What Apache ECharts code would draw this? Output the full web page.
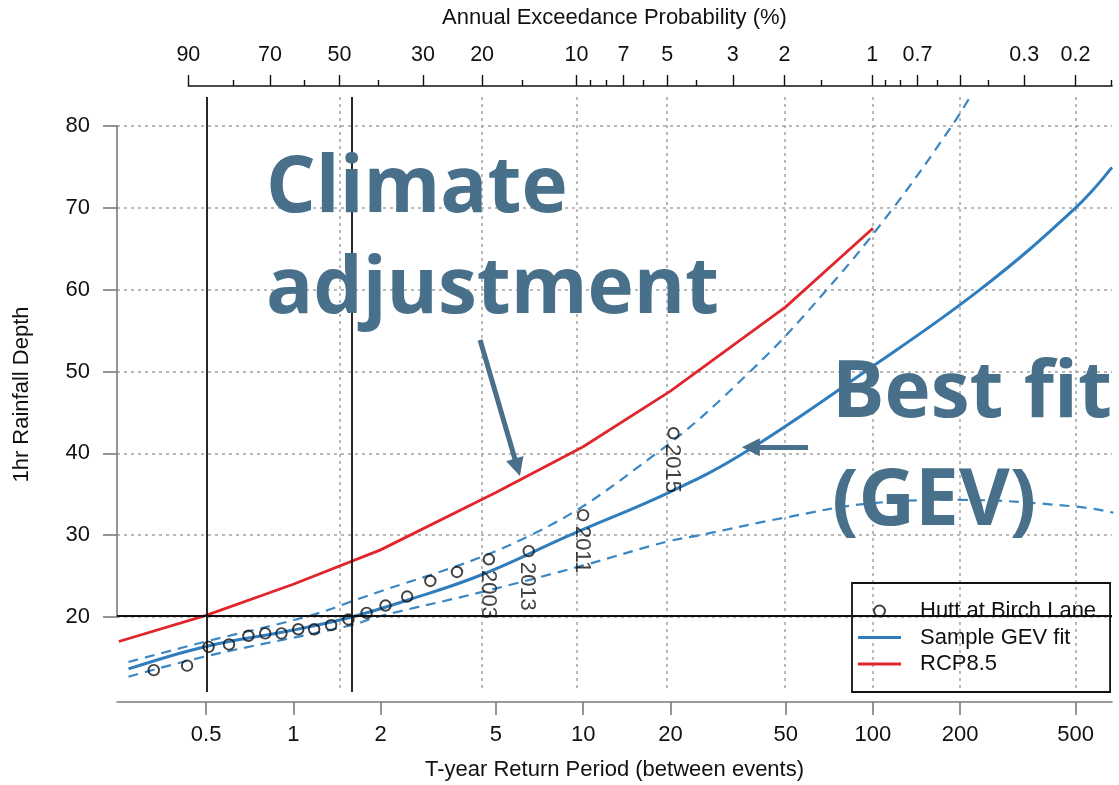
<!DOCTYPE html>
<html>
<head>
<meta charset="utf-8">
<title>1hr Rainfall Depth – Hutt at Birch Lane</title>
<script src="https://cdn.jsdelivr.net/npm/echarts@6/dist/echarts.min.js"></script>
<style>
  html, body { margin: 0; padding: 0; background: #ffffff; }
  #chart { width: 1119px; height: 785px; }
</style>
</head>
<body>
<div id="chart"></div>
<script>
// Observed annual maxima, Hutt at Birch Lane (return period in years, depth in mm)
const returnPeriods = [0.33, 0.43, 0.51, 0.60, 0.70, 0.80, 0.91, 1.04, 1.18, 1.35,
                       1.55, 1.79, 2.08, 2.47, 2.97, 3.67, 4.73, 6.49, 10.0, 20.5];
const depths = [13.5, 14.05, 16.35, 16.65, 17.7, 18.0, 18.0, 18.5, 18.5, 19.0,
                19.7, 20.5, 21.4, 22.5, 24.4, 25.5, 27.05, 28.05, 32.45, 42.45];
const eventYears = ['', '', '', '', '', '', '', '', '', '',
                    '', '', '', '', '', '', '2003', '2013', '2011', '2015'];

// Sample GEV fit and its confidence band
const gevPeriods = [0.27, 0.5, 1, 1.59, 2.5, 4.42, 9, 20, 35.7, 94, 234, 500, 668];
const gevDepths = [13.65, 16.4, 18.4, 20.0, 22.1, 25.1, 30.0, 35.3, 40.0, 50.0, 60.0, 70.0, 74.95];
const upperPeriods = [0.27, 0.5, 1.1, 1.59, 6.6, 17.9, 37.7, 69.3, 117.6, 187, 220];
const upperDepths = [14.5, 17.0, 20.0, 21.9, 30.0, 40.0, 50.0, 60.0, 70.0, 80.0, 84.0];
const lowerPeriods = [0.27, 0.5, 1.59, 1.94, 4.53, 10, 19.4, 25.3, 49, 99, 200, 500, 675];
const lowerDepths = [12.7, 15.2, 19.0, 20.0, 23.1, 26.3, 29.2, 30.0, 32.1, 33.9, 34.3, 33.5, 32.75];

// Climate-adjusted depths (RCP8.5)
const rcpPeriods = [0.25, 0.5, 1, 2, 5, 10, 20, 50, 100];
const rcpDepths = [17.0, 20.2, 24.0, 28.2, 35.2, 40.8, 47.6, 57.9, 67.5];

// Axis ticks
const periodTicks = [0.5, 1, 2, 5, 10, 20, 50, 100, 200, 500];
const aepMajor = [90, 70, 50, 30, 20, 10, 7, 5, 3, 2, 1, 0.7, 0.5, 0.3, 0.2];
const aepLabelled = [90, 70, 50, 30, 20, 10, 7, 5, 3, 2, 1, 0.7, 0.3, 0.2];
const aepMinor = [80, 60, 40, 15, 9, 8, 6, 4, 1.5, 0.9, 0.8, 0.6, 0.4, 0.15];
const aepGrid = [50, 20, 10, 5, 2, 1, 0.5, 0.2];
const depthTicks = [20, 30, 40, 50, 60, 70, 80];

// Reference lines
const refPeriods = [0.5, 1.6];
const refDepth = 20.2;

// Annotation arrows: [start period, start depth, end period, end depth]
const climateArrow = [4.41, 53.85, 5.93, 38.3];
const bestFitArrow = [59.7, 40.74, 37.9, 40.74];

// Axis extents
const periodRange = [0.2464, 668];
const depthRange = [10.83, 83.55];

// ---------------------------------------------------------------
const FONT = '"Liberation Sans", Arial, Helvetica, sans-serif';
const INK = '#111111';
const AXIS_GREY = '#7a7a7a';
const GRID_GREY = '#a3a3a3';
const BLUE = '#2f7dbd';
const BLUE_DASH = '#3a87c3';
const RED = '#e0262c';
const NOTE = '#48708a';
const LINE_ICON = 'path://M0,0H43V3H0Z';

const PLOT = { left: 117, top: 97, width: 995, height: 595 };
const W = 1119, H = 785;

const lx = t => Math.log10(t);
const aepToPeriod = p => -1 / Math.log(1 - p / 100);   // AEP (%) -> average period between events
const xMin = lx(periodRange[0]);
const xMax = lx(periodRange[1]);

const pairs = (ts, vs) => ts.map((t, i) => [lx(t), vs[i]]);
const nearestLabel = (list, toX) => v => {
  for (const t of list) if (Math.abs(toX(t) - v) < 1e-6) return String(t);
  return '';
};

// Sub-grids sharing the main scale: y axis drawn between 20 and 80, top axis from 90 %
const yPix = v => PLOT.top + (depthRange[1] - v) / (depthRange[1] - depthRange[0]) * PLOT.height;
const xPix = x => PLOT.left + (x - xMin) / (xMax - xMin) * PLOT.width;
const aepStart = lx(aepToPeriod(aepMajor[0]));
const yAxisGrid = {
  left: PLOT.left, right: W - PLOT.left - PLOT.width,
  top: yPix(depthTicks[depthTicks.length - 1]), bottom: H - yPix(depthTicks[0])
};
const topAxisGrid = {
  left: xPix(aepStart), right: W - PLOT.left - PLOT.width,
  top: PLOT.top, bottom: H - PLOT.top - PLOT.height
};
const mainGrid = {
  left: PLOT.left, right: W - PLOT.left - PLOT.width,
  top: PLOT.top, bottom: H - PLOT.top - PLOT.height
};

// Size the headline annotations from the text widths
const measureCtx = document.createElement('canvas').getContext('2d');
measureCtx.font = '700 100px "Open Sans"';
const noteSize = 100 * 453 / measureCtx.measureText('adjustment').width;
const noteFont = `700 ${noteSize.toFixed(1)}px "Open Sans", "Noto Sans", sans-serif`;

const hiddenY = (gridIndex) => ({
  type: 'value', gridIndex, show: false, min: depthRange[0], max: depthRange[1]
});
const hiddenX = (gridIndex) => ({
  type: 'value', gridIndex, show: false, min: 0, max: 1
});

const chart = echarts.init(document.getElementById('chart'), null, { renderer: 'canvas' });

const option = {
  animation: false,
  backgroundColor: '#ffffff',
  textStyle: { fontFamily: FONT, color: INK },
  grid: [
    Object.assign({ outerBoundsMode: 'none' }, mainGrid),
    Object.assign({ outerBoundsMode: 'none' }, yAxisGrid),
    Object.assign({ outerBoundsMode: 'none' }, topAxisGrid),
    Object.assign({ outerBoundsMode: 'none' }, topAxisGrid)
  ],
  xAxis: [
    { // bottom: return period
      type: 'value', gridIndex: 0, position: 'bottom', offset: 10,
      min: xMin, max: xMax,
      name: 'T-year Return Period (between events)',
      nameLocation: 'middle', nameGap: 57, nameMoveOverlap: false,
      nameTextStyle: { fontSize: 22, color: INK, fontFamily: FONT },
      axisLine: { show: true, onZero: false, lineStyle: { color: AXIS_GREY, width: 1.6 } },
      axisTick: { show: true, length: 13, customValues: periodTicks.map(lx),
                  lineStyle: { color: AXIS_GREY, width: 1.6 } },
      axisLabel: { show: true, customValues: periodTicks.map(lx), margin: 22,
                   fontSize: 22, color: INK, fontFamily: FONT,
                   formatter: nearestLabel(periodTicks, lx) },
      splitLine: { show: false }
    },
    { // top of plot: dotted grid at AEP values, axis title
      type: 'value', gridIndex: 0, position: 'top', offset: 11,
      min: xMin, max: xMax,
      name: 'Annual Exceedance Probability (%)',
      nameLocation: 'middle', nameGap: 57, nameMoveOverlap: false,
      nameTextStyle: { fontSize: 22, color: INK, fontFamily: FONT },
      axisLine: { show: false, onZero: false },
      axisTick: { show: false, customValues: aepGrid.map(p => lx(aepToPeriod(p))) },
      axisLabel: { show: false },
      splitLine: { show: true, lineStyle: { color: GRID_GREY, width: 1.5, type: [3, 4] } }
    },
    hiddenX(1),
    { // top: annual exceedance probability, major ticks
      type: 'value', gridIndex: 2, position: 'top', offset: 11,
      min: aepStart, max: xMax,
      axisLine: { show: true, onZero: false, lineStyle: { color: INK, width: 1.6 } },
      axisTick: { show: true, length: 11, customValues: aepMajor.map(p => lx(aepToPeriod(p))),
                  lineStyle: { color: INK, width: 1.4 } },
      axisLabel: { show: true, customValues: aepLabelled.map(p => lx(aepToPeriod(p))), margin: 20,
                   fontSize: 21.5, color: INK, fontFamily: FONT,
                   formatter: nearestLabel(aepLabelled, p => lx(aepToPeriod(p))) },
      splitLine: { show: false }
    },
    { // top: annual exceedance probability, minor ticks
      type: 'value', gridIndex: 3, position: 'top', offset: 11,
      min: aepStart, max: xMax,
      axisLine: { show: false, onZero: false },
      axisTick: { show: true, length: 6, customValues: aepMinor.map(p => lx(aepToPeriod(p))),
                  lineStyle: { color: INK, width: 1.4 } },
      axisLabel: { show: false },
      splitLine: { show: false }
    }
  ],
  yAxis: [
    { // main depth scale: dotted grid and title
      type: 'value', gridIndex: 0, min: depthRange[0], max: depthRange[1],
      name: '1hr Rainfall Depth', nameLocation: 'middle', nameGap: 84, nameRotate: 90,
      nameMoveOverlap: false,
      nameTextStyle: { fontSize: 22, color: INK, fontFamily: FONT },
      axisLine: { show: false, onZero: false },
      axisTick: { show: false, customValues: depthTicks },
      axisLabel: { show: false },
      splitLine: { show: true, lineStyle: { color: GRID_GREY, width: 1.5, type: [3, 4] } }
    },
    { // visible depth axis between 20 and 80
      type: 'value', gridIndex: 1, min: depthTicks[0], max: depthTicks[depthTicks.length - 1],
      interval: 10,
      axisLine: { show: true, onZero: false, lineStyle: { color: AXIS_GREY, width: 1.6 } },
      axisTick: { show: true, length: 14, lineStyle: { color: AXIS_GREY, width: 1.6 } },
      axisLabel: { show: true, margin: 27, fontSize: 22, color: INK, fontFamily: FONT },
      splitLine: { show: false }
    },
    hiddenY(2),
    hiddenY(3)
  ],
  legend: {
    orient: 'vertical', left: 852, top: 583,
    padding: [17, 14, 17, 6], itemGap: 4.5, itemWidth: 43, itemHeight: 11,
    borderColor: INK, borderWidth: 1.8, backgroundColor: 'transparent',
    selectedMode: false, symbolKeepAspect: true,
    data: [
      { name: 'Hutt at Birch Lane' },
      { name: 'Sample GEV fit', icon: LINE_ICON, itemStyle: { color: BLUE, borderWidth: 0 } },
      { name: 'RCP8.5', icon: LINE_ICON, itemStyle: { color: RED, borderWidth: 0 } }
    ],
    textStyle: { fontSize: 22, color: INK, fontFamily: FONT, padding: [0, 0, 0, 14] }
  },
  series: [
    {
      name: 'Upper bound', type: 'line', xAxisIndex: 0, yAxisIndex: 0,
      data: pairs(upperPeriods, upperDepths), smooth: 0.4, symbol: 'none', clip: true,
      lineStyle: { color: BLUE_DASH, width: 2.2, type: [10, 7] }, z: 2
    },
    {
      name: 'Lower bound', type: 'line', xAxisIndex: 0, yAxisIndex: 0,
      data: pairs(lowerPeriods, lowerDepths), smooth: 0.4, symbol: 'none', clip: true,
      lineStyle: { color: BLUE_DASH, width: 2.2, type: [10, 7] }, z: 2
    },
    {
      name: 'Sample GEV fit', type: 'line', xAxisIndex: 0, yAxisIndex: 0,
      data: pairs(gevPeriods, gevDepths), smooth: 0.4, symbol: 'none', clip: true,
      color: BLUE, lineStyle: { color: BLUE, width: 3 }, z: 3
    },
    {
      name: 'RCP8.5', type: 'line', xAxisIndex: 0, yAxisIndex: 0,
      data: pairs(rcpPeriods, rcpDepths), smooth: false, symbol: 'none', clip: true,
      color: RED, lineStyle: { color: RED, width: 2.8 }, z: 3
    },
    {
      name: 'Hutt at Birch Lane', type: 'scatter', xAxisIndex: 0, yAxisIndex: 0,
      data: pairs(returnPeriods, depths),
      symbol: 'circle', symbolSize: 10.5,
      itemStyle: { color: 'transparent', borderColor: INK, borderWidth: 1.9 },
      label: {
        show: true, formatter: p => eventYears[p.dataIndex],
        position: [5, 17], rotate: -90, align: 'left', verticalAlign: 'middle',
        fontSize: 22, color: INK, fontFamily: FONT
      },
      z: 5,
      markLine: {
        silent: true, symbol: ['none', 'none'], animation: false,
        label: { show: false },
        data: [
          { xAxis: lx(refPeriods[0]), lineStyle: { color: INK, width: 1.8, type: 'solid' } },
          { xAxis: lx(refPeriods[1]), lineStyle: { color: INK, width: 1.8, type: 'solid' } },
          { yAxis: refDepth, lineStyle: { color: INK, width: 1.8, type: 'solid' } },
          [
            { coord: [lx(climateArrow[0]), climateArrow[1]], symbol: 'none',
              lineStyle: { color: NOTE, width: 5, type: 'solid' } },
            { coord: [lx(climateArrow[2]), climateArrow[3]], symbol: 'triangle', symbolSize: 18 }
          ],
          [
            { coord: [lx(bestFitArrow[0]), bestFitArrow[1]], symbol: 'none',
              lineStyle: { color: NOTE, width: 5, type: 'solid' } },
            { coord: [lx(bestFitArrow[2]), bestFitArrow[3]], symbol: 'triangle', symbolSize: 18 }
          ]
        ]
      }
    }
  ],
  graphic: [
    { type: 'text', x: 266, y: 190, z: 100, silent: true,
      style: { text: 'Climate', font: noteFont, fill: NOTE, align: 'left', verticalAlign: 'middle' } },
    { type: 'text', x: 266, y: 291, z: 100, silent: true,
      style: { text: 'adjustment', font: noteFont, fill: NOTE, align: 'left', verticalAlign: 'middle' } },
    { type: 'text', x: 832, y: 395, z: 100, silent: true,
      style: { text: 'Best fit', font: noteFont, fill: NOTE, align: 'left', verticalAlign: 'middle' } },
    { type: 'text', x: 832, y: 503, z: 100, silent: true,
      style: { text: '(GEV)', font: noteFont, fill: NOTE, align: 'left', verticalAlign: 'middle' } }
  ]
};

chart.setOption(option);
</script>
</body>
</html>
